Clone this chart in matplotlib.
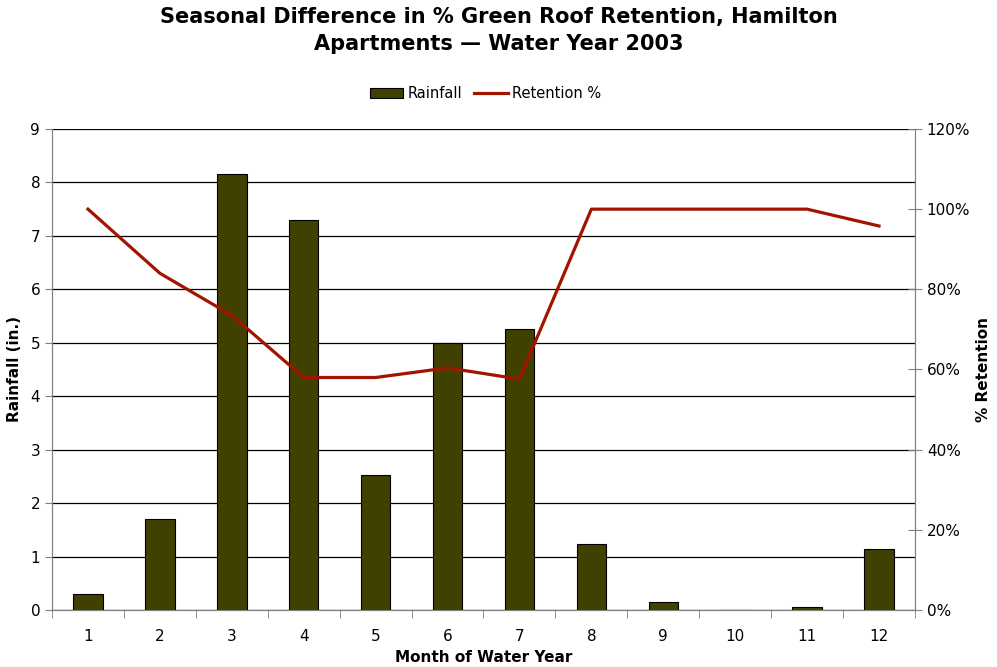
import matplotlib.pyplot as plt
import matplotlib.ticker as mticker
import numpy as np

months = [1, 2, 3, 4, 5, 6, 7, 8, 9, 10, 11, 12]
rainfall = [0.30, 1.70, 8.16, 7.30, 2.53, 5.00, 5.26, 1.24, 0.15, 0.0, 0.05, 1.14]
retention = [100, 84, 73.5, 58, 58, 60.4, 57.6, 100, 100, 100, 100, 95.8]

plt.rcParams['font.family'] = ['DejaVu Sans']

fig = plt.figure(figsize=(9.97, 6.67), dpi=100)
ax = fig.add_axes([0.0522, 0.0855, 0.8655, 0.7211])
ax2 = ax.twinx()

ax.set_axisbelow(True)
bars = ax.bar(months, rainfall, width=0.41, color='#404000', edgecolor='black',
              linewidth=0.8, label='Rainfall', zorder=2)
ax.set_xlim(0.5, 12.5)
ax.set_ylim(0, 9)
ax.set_yticks(range(0, 10))
ax.yaxis.grid(True, color='black', linewidth=0.9)
ax.set_xticks(months)
ax.set_xticks(np.arange(0.5, 13, 1), minor=True)
ax.tick_params(axis='x', which='major', length=0, pad=14, labelsize=11)
ax.tick_params(axis='x', which='minor', length=6, color='#808080', direction='out')
ax.tick_params(axis='y', length=5, color='#808080', labelsize=11)

line, = ax2.plot(months, retention, color='#A31400', linewidth=2.3, label='Retention %')
ax2.set_ylim(0, 120)
ax2.set_yticks(range(0, 121, 20))
ax2.yaxis.set_major_formatter(mticker.FuncFormatter(lambda v, p: '%d%%' % v))
ax2.tick_params(axis='y', length=10, direction='inout', color='#808080', labelsize=11)

for a in (ax, ax2):
    for s in a.spines.values():
        s.set_color('#808080')
    a.spines['top'].set_visible(False)

ax.set_xlabel('Month of Water Year', fontweight='bold', fontsize=11)
ax.set_ylabel('Rainfall (in.)', fontweight='bold', fontsize=11, labelpad=6)
ax2.set_ylabel('% Retention', fontweight='bold', fontsize=11, labelpad=4)

fig.suptitle('Seasonal Difference in % Green Roof Retention, Hamilton\nApartments \u2014 Water Year 2003',
             fontweight='bold', fontsize=15, y=0.99, linespacing=1.45)

fig.legend([bars, line], ['Rainfall', 'Retention %'], loc='center', bbox_to_anchor=(0.487, 0.86),
           ncol=2, frameon=False, fontsize=10.5, handlelength=2.3, handletextpad=0.3,
           columnspacing=0.8)

fig.savefig('out.png', dpi=100)
